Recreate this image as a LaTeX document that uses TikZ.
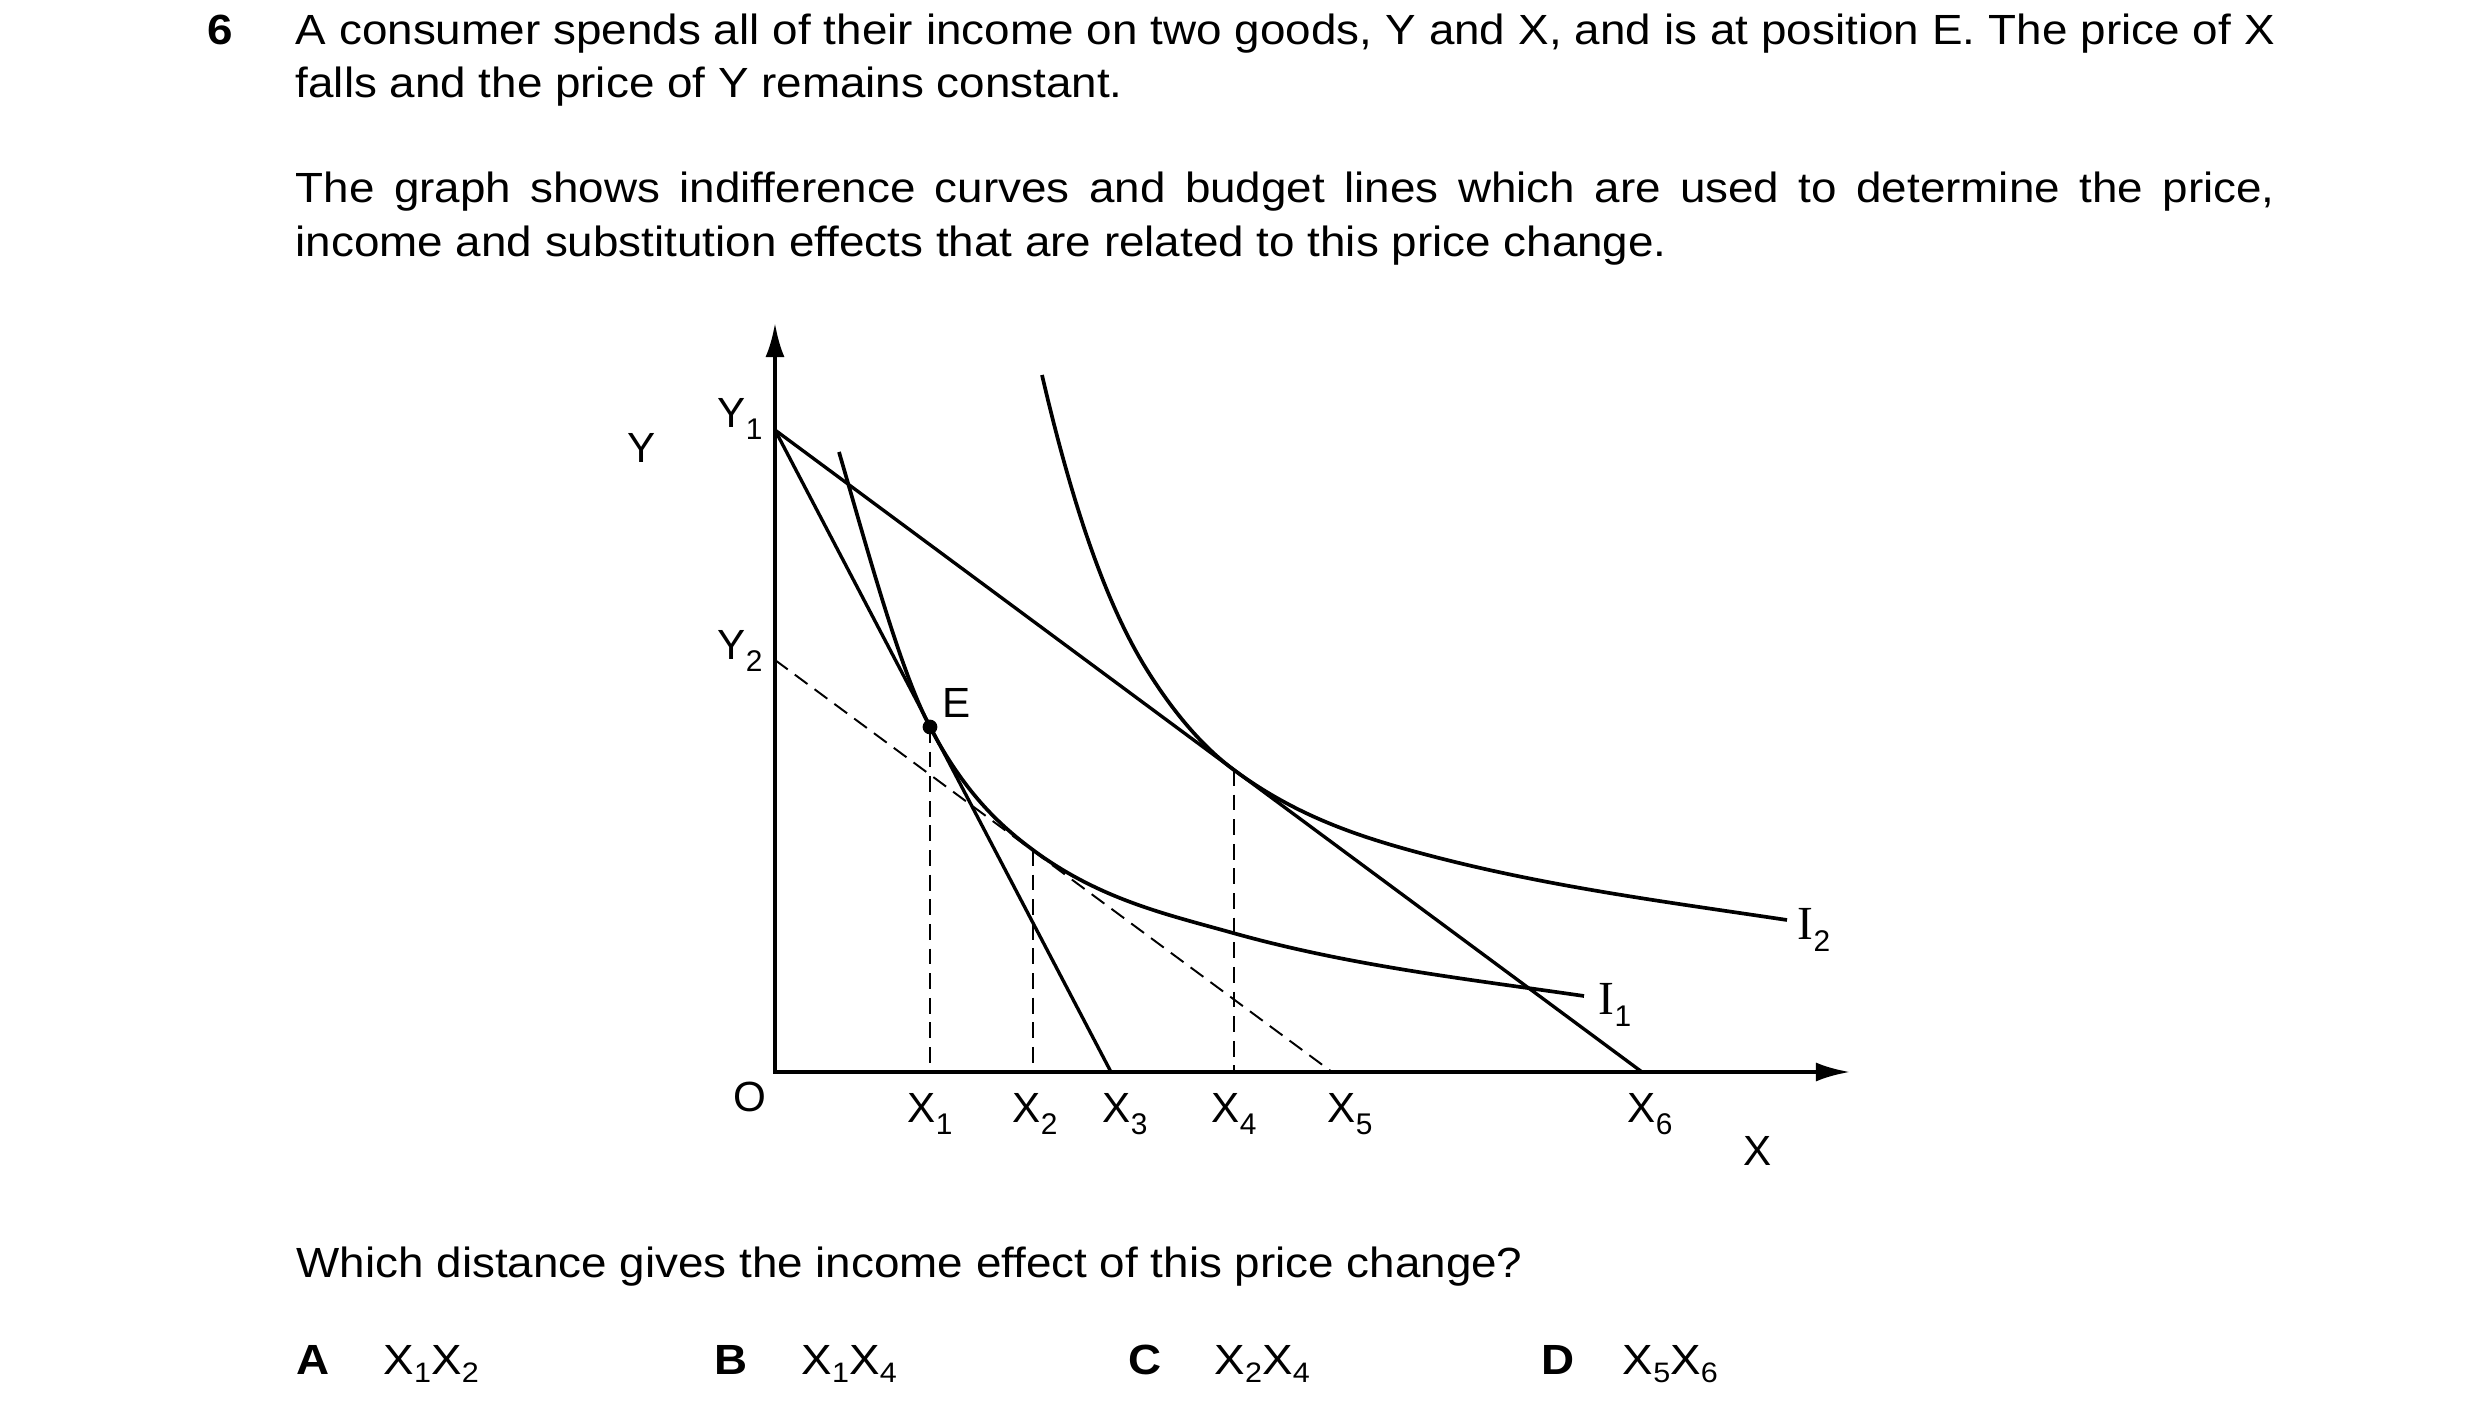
\documentclass[tikz,border=0pt]{standalone}
\usepackage{fontspec}
\setmainfont{Liberation Sans}
\newfontfamily\bodyfont{Liberation Sans}[FakeStretch=1.085]
\newfontfamily\serifI{Liberation Serif}
\usetikzlibrary{arrows.meta}
\newcommand\gsub[1]{\raisebox{-3.4pt}{\fontsize{8.5pt}{10pt}\selectfont #1}}
\newcommand\osub[1]{\raisebox{-2pt}{\fontsize{8pt}{9pt}\selectfont #1}}
\newcommand\romI{{\serifI\fontsize{13.5pt}{15pt}\selectfont I}}
\begin{document}
\begin{tikzpicture}[x=0.01cm,y=-0.01cm,
  txt/.style={anchor=base west, inner sep=0pt, font=\fontsize{12pt}{15pt}\selectfont},
  body/.style={anchor=base west, inner sep=0pt, font=\bodyfont\fontsize{12pt}{15pt}\selectfont},
  bbody/.style={anchor=base west, inner sep=0pt, font=\bodyfont\fontsize{12pt}{15pt}\selectfont\bfseries},
  curve/.style={line width=1.05pt},
  budget/.style={line width=0.95pt},
  guide/.style={line width=0.55pt, dash pattern=on 4.5pt off 2.5pt},
  axis/.style={line width=1.1pt, {Latex[length=9.7pt,width=5.4pt]}-{Latex[length=9.7pt,width=5.4pt]}}]
\fill[white] (0,0) rectangle (2480,1422);
\useasboundingbox (0,0) rectangle (2480,1422);

% question text
\node[bbody] (qn) at (207,45) {6};
\node[body] (l1) at (295,45) {\makebox[19.78cm][s]{A consumer spends all of their income on two goods, Y and X, and is at position E. The price of X}};
\node[body] (l2) at (295,98) {falls and the price of Y remains constant.};
\node[body] (l3) at (295,203) {\makebox[19.78cm][s]{The graph shows indifference curves and budget lines which are used to determine the price,}};
\node[body] (l4) at (295,257) {income and substitution effects that are related to this price change.};

% coordinates
\coordinate (O) at (775,1072);
\coordinate (Ytip) at (775,323);
\coordinate (Xtip) at (1850,1072);
\coordinate (Y1) at (775,430);
\coordinate (Y2) at (775,660);
\coordinate (X1) at (930,1072);
\coordinate (X2) at (1033,1072);
\coordinate (X3) at (1111,1072);
\coordinate (X4) at (1234,1072);
\coordinate (X5) at (1332,1072);
\coordinate (X6) at (1642,1072);
\coordinate (E) at (930,727);
\coordinate (T1) at (1033,850);
\coordinate (T2) at (1234,770);

% axes
\draw[axis] (Ytip) -- (O) -- (Xtip);

% budget lines
\draw[budget] (Y1) -- (X3);
\draw[budget] (Y1) -- (X6);
\draw[guide] (Y2) -- (X5);
\draw[guide] (E) -- (X1);
\draw[guide] (T1) -- (X2);
\draw[guide] (T2) -- (X4);

% indifference curve I1
\draw[curve] (839,452) .. controls +(30,103) and +(-30,-57) .. (E)
  .. controls +(34,65) and +(-34,-25.2) .. (T1)
  .. controls +(67,49.6) and +(-67,-18.8) .. (1233,933)
  .. controls +(117,32.8) and +(-117,-17) .. (1584,996);

% indifference curve I2
\draw[curve] (1042,375) .. controls +(35,150.5) and +(-35,-56) .. (1147,670)
  .. controls +(29,46.4) and +(-29,-21.5) .. (T2)
  .. controls +(62,45.9) and +(-62,-16.7) .. (1420,853)
  .. controls +(122,33) and +(-122,-18.3) .. (1787,920);

\fill (E) circle[radius=2.1pt];

% labels
\node[txt] (ylab) at (627,463) {Y};
\node[txt] (y1) at (717,428) {Y\gsub{1}};
\node[txt] (y2) at (717,660) {Y\gsub{2}};
\node[txt] (elab) at (942,718) {E};
\node[txt] (olab) at (733,1112) {O};
\node[txt] (x1) at (907,1123) {X\gsub{1}};
\node[txt] (x2) at (1012,1123) {X\gsub{2}};
\node[txt] (x3) at (1102,1123) {X\gsub{3}};
\node[txt] (x4) at (1211,1123) {X\gsub{4}};
\node[txt] (x5) at (1327,1123) {X\gsub{5}};
\node[txt] (x6) at (1627,1123) {X\gsub{6}};
\node[txt] (xlab) at (1743,1166) {X};
\node[txt] (i1) at (1598,1015) {\romI\gsub{1}};
\node[txt] (i2) at (1797,940) {\romI\gsub{2}};

% question and options
\node[body] (q) at (296,1278) {Which distance gives the income effect of this price change?};
\node[bbody] (oa) at (296,1375) {A};
\node[body] (ta) at (383,1375) {X\osub{1}X\osub{2}};
\node[bbody] (ob) at (714,1375) {B};
\node[body] (tb) at (801,1375) {X\osub{1}X\osub{4}};
\node[bbody] (oc) at (1128,1375) {C};
\node[body] (tc) at (1214,1375) {X\osub{2}X\osub{4}};
\node[bbody] (od) at (1541,1375) {D};
\node[body] (td) at (1622,1375) {X\osub{5}X\osub{6}};
\end{tikzpicture}
\end{document}
